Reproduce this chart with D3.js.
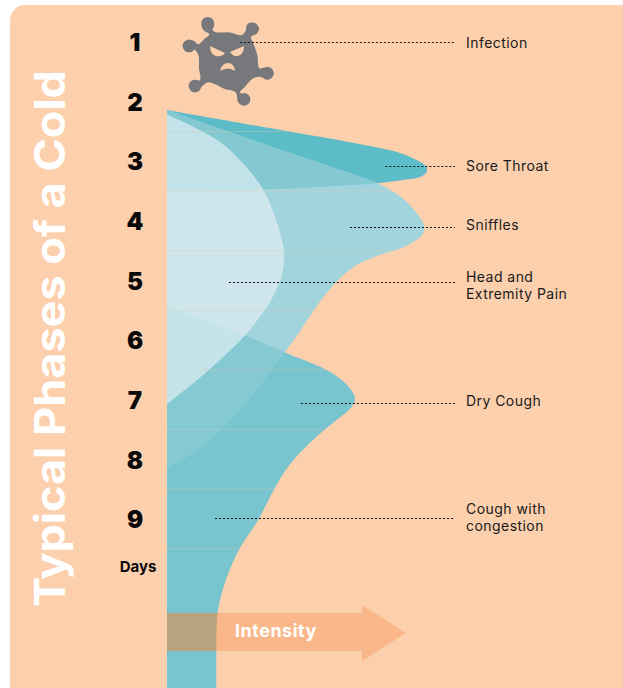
<!DOCTYPE html>
<html>
<head>
<meta charset="utf-8">
<script src="https://cdn.jsdelivr.net/npm/d3@7"></script>
<style>
    html, body { margin: 0; padding: 0; background: #fff; }
    svg { display: block; font-family: Inter, "Open Sans", sans-serif; }
</style>
</head>
<body>
<svg id="chart" width="623" height="688"></svg>
<script>
'use strict';

const title = 'Typical Phases of a Cold';
const dayTicks = [1, 2, 3, 4, 5, 6, 7, 8, 9];
const gridDays = [2.5, 3.5, 4.5, 5.5, 6.5, 7.5, 8.5, 9.5];

const soreDays = [2.14, 2.51, 2.69, 2.86, 2.98, 3.06, 3.13, 3.2, 3.27, 3.32, 3.37, 3.42, 3.47, 3.5];
const soreValues = [0, 48, 71.5, 89.6, 96, 99, 100, 99.5, 97, 90, 81, 63, 40, 0];

const sniffleDays = [2.14, 2.48, 2.81, 3.15, 3.37, 3.6, 3.87, 4.1, 4.24, 4.46, 4.57, 4.74, 4.94, 5.33, 5.8, 6.2, 7.04, 7.56, 7.9, 8.13];
const sniffleValues = [0, 22, 44, 67, 81, 90, 96, 99, 98, 90, 82, 73, 67, 59.2, 51.9, 45.4, 30.4, 19.2, 9.6, 0];

const headDays = [2.22, 2.64, 3.03, 3.48, 3.99, 4.49, 4.69, 4.94, 5.33, 5.53, 5.92, 6.54, 7.07];
const headValues = [0, 19, 29, 37, 42, 45, 45, 44, 40, 37, 30, 15, 0];

const coughDays = [5.41, 5.92, 6.2, 6.54, 6.79, 6.97, 7.12, 7.38, 7.68, 8.1, 8.52, 9.02, 9.49, 9.98, 10.53, 11.25, 11.84];
const coughValues = [0, 30, 45, 63, 70, 72.3, 71, 64, 56, 47, 41, 35, 28, 23, 19.6, 19, 19];

const labelNames = [['Infection'], ['Sore Throat'], ['Sniffles'], ['Head and', 'Extremity Pain'], ['Dry Cough'], ['Cough with', 'congestion']];
const labelDays = [1, 3.08, 4.1, 5.03, 7.06, 8.99];
const labelValues = [28, 84, 70.4, 23.8, 51.5, 18.5];
const labelBaselines = [48, 171, 230, 282, 406, 514];

const svg = d3.select('#chart');

const x = d3.scaleLinear().domain([0, 100]).range([167, 427]);
const y = d3.scaleLinear().domain([1, 9]).range([42, 519]);

const zip = (days, values) => days.map((d, i) => ({ day: d, value: values[i] }));

const area = d3.area()
    .y((d) => y(d.day))
    .x0(x(0))
    .x1((d) => x(d.value))
    .curve(d3.curveCatmullRom.alpha(0.5));

const sore = area(zip(soreDays, soreValues));
const sniffle = area(zip(sniffleDays, sniffleValues));
const head = area(zip(headDays, headValues));
const cough = area(zip(coughDays, coughValues));
const arrow = 'M167,613H362V605L406,633L362,661V651H167Z';

// panel
svg.append('rect')
    .attr('x', 10)
    .attr('y', 5)
    .attr('width', 640)
    .attr('height', 700)
    .attr('rx', 15)
    .attr('fill', '#fccfad');

const defs = svg.append('defs');
const addClip = (id, paths) => {
    const clip = defs.append('clipPath').attr('id', id);
    paths.forEach((p) => clip.append('path').attr('d', p));
};
addClip('clip-sore', [sore]);
addClip('clip-cough', [cough]);
addClip('clip-all', [sore, sniffle, head, cough]);

const drawShape = (d, fill, clip) => {
    const p = svg.append('path').attr('d', d).attr('fill', fill);
    if (clip) {
        p.attr('clip-path', `url(#${clip})`);
    }
};

// overlaps are painted explicitly, the original colours don't come from plain alpha
drawShape(sore, '#5cbcc8');
drawShape(cough, '#78c5d0');
drawShape(sniffle, '#a2d4de');
drawShape(sniffle, '#84c9d2', 'clip-sore');
drawShape(sniffle, '#85c9d3', 'clip-cough');
drawShape(head, '#cfe7ec');
drawShape(head, '#c3e3ea', 'clip-sore');
drawShape(head, '#c5e4ea', 'clip-cough');

// faint day lines inside the shapes
svg.append('g')
    .attr('clip-path', 'url(#clip-all)')
    .selectAll('line')
    .data(gridDays)
    .enter().append('line')
        .attr('x1', x(0))
        .attr('x2', x(100))
        .attr('y1', (d) => y(d))
        .attr('y2', (d) => y(d))
        .attr('stroke', '#d8c8b4')
        .attr('stroke-opacity', 0.4)
        .attr('stroke-width', 1);

// intensity arrow
drawShape(arrow, '#fab88a');
drawShape(arrow, '#baa47f', 'clip-cough');
svg.append('text')
    .attr('x', 235)
    .attr('y', 637)
    .attr('fill', '#fff')
    .attr('font-size', 18)
    .attr('font-weight', 700)
    .attr('letter-spacing', 0.5)
    .text('Intensity');

// day axis
const axis = svg.append('g')
    .attr('transform', 'translate(135, 1)')
    .call(d3.axisLeft(y).tickValues(dayTicks).tickSize(0).tickPadding(0));
axis.select('.domain').remove();
axis.selectAll('text')
    .attr('text-anchor', 'middle')
    .attr('font-family', 'Inter, sans-serif')
    .attr('font-size', 24)
    .attr('font-weight', 900)
    .attr('fill', '#0a0a0a');

svg.append('text')
    .attr('x', 138)
    .attr('y', 572)
    .attr('text-anchor', 'middle')
    .attr('font-size', 15)
    .attr('font-weight', 700)
    .attr('fill', '#0a0a0a')
    .text('Days');

// title
svg.append('text')
    .attr('transform', 'translate(65, 607) rotate(-90)')
    .attr('font-size', 42)
    .attr('font-weight', 700)
    .attr('fill', '#fff')
    .attr('textLength', 537)
    .attr('lengthAdjust', 'spacingAndGlyphs')
    .text(title);

// virus icon, outline traced at 3x
const virusOutline = [[95, 60], [105, 40], [125, 42], [133, 60], [128, 75], [140, 82], [175, 82], [215, 90], [228, 75], [232, 58], [250, 53], [267, 68], [260, 85], [243, 95], [250, 115], [262, 150], [268, 190], [280, 188], [300, 188], [310, 205], [295, 222], [270, 215], [250, 220], [225, 245], [210, 262], [228, 275], [238, 290], [222, 300], [205, 292], [197, 262], [165, 252], [115, 232], [95, 245], [72, 262], [57, 245], [65, 228], [90, 225], [87, 190], [85, 150], [70, 132], [50, 140], [38, 122], [52, 105], [72, 108], [85, 118], [105, 100], [118, 88], [100, 75]];
const virusTips = [[113, 55], [247, 72], [292, 205], [222, 283], [75, 243], [57, 123]];
const virus = svg.append('g')
    .attr('transform', 'translate(170, 5) scale(0.3333)')
    .attr('fill', '#77787b');
virus.append('path')
    .attr('d', d3.line().curve(d3.curveCatmullRomClosed.alpha(0.5))(virusOutline));
virus.selectAll('circle')
    .data(virusTips)
    .enter().append('circle')
        .attr('cx', (d) => d[0])
        .attr('cy', (d) => d[1])
        .attr('r', 19);
const face = ['M210,46L225,53Q222,57 216,56Q210,54 210,46Z', 'M244,46L230,52Q233,57 238,56Q244,54 244,46Z', 'M220,71Q222,63 228,63Q234,63 235,71Q228,66 220,71Z'];
svg.append('g')
    .selectAll('path')
    .data(face)
    .enter().append('path')
        .attr('d', (d) => d)
        .attr('fill', '#fccfad');

// leaders and labels
const labels = svg.append('g')
    .selectAll('g')
    .data(labelNames)
    .enter().append('g');
labels.append('line')
    .attr('x1', (d, i) => x(labelValues[i]))
    .attr('x2', 455)
    .attr('y1', (d, i) => Math.round(y(labelDays[i])) + 0.5)
    .attr('y2', (d, i) => Math.round(y(labelDays[i])) + 0.5)
    .attr('stroke', '#111')
    .attr('stroke-dasharray', '2,2');
labels.each(function (d, i) {
    d3.select(this).selectAll('text')
        .data(d)
        .enter().append('text')
            .attr('x', 466)
            .attr('y', (t, j) => labelBaselines[i] + j * 17)
            .attr('font-size', 14)
            .attr('letter-spacing', 0.45)
            .attr('fill', '#1a1a1a')
            .text((t) => t);
});
</script>
</body>
</html>
